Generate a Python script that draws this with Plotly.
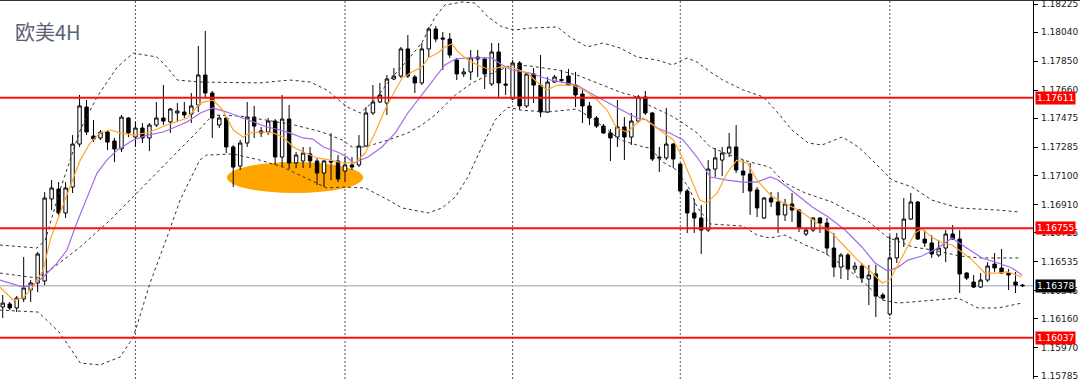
import plotly.graph_objects as go

# ---------------- data (EURUSD 4H) ----------------
opens = [1.16238,1.16258,1.16232,1.16291,1.16350,1.16396,1.16409,1.16947,1.17012,1.16855,
         1.17025,1.17307,1.17550,1.17360,1.17347,1.17386,1.17327,1.17275,1.17478,1.17353,
         1.17412,1.17347,1.17432,1.17478,1.17452,1.17511,1.17517,1.17504,1.17563,1.17760,
         1.17642,1.17432,1.17478,1.17288,1.17163,1.17314,1.17484,1.17393,1.17386,1.17458,
         1.17222,1.17471,1.17183,1.17196,1.17242,1.17196,1.17117,1.17196,1.17196,1.17130,
         1.17170,1.17170,1.17294,1.17511,1.17583,1.17576,1.17734,1.17753,1.17931,1.17747,
         1.17708,1.17931,1.18062,1.18003,1.17996,1.17858,1.17767,1.17780,1.17878,1.17865,
         1.17701,1.17911,1.17701,1.17603,1.17839,1.17557,1.17767,1.17694,1.17517,1.17714,
         1.17724,1.17753,1.17694,1.17635,1.17557,1.17478,1.17425,1.17380,1.17353,1.17419,
         1.17353,1.17458,1.17616,1.17511,1.17222,1.17216,1.17307,1.17176,1.16999,1.16855,
         1.16822,1.16743,1.17143,1.17202,1.17248,1.17288,1.17130,1.17111,1.17006,1.16822,
         1.16953,1.16927,1.16842,1.16914,1.16874,1.16717,1.16743,1.16822,1.16789,1.16625,
         1.16500,1.16579,1.16487,1.16507,1.16422,1.16455,1.16317,1.16192,1.16560,1.16684,
         1.16815,1.16927,1.16684,1.16658,1.16579,1.16625,1.16717,1.16684,1.16461,1.16402,
         1.16369,1.16415,1.16520,1.16494,1.16461,1.16402,1.16382]
highs = [1.16317,1.16271,1.16310,1.16566,1.16415,1.16599,1.16992,1.17071,1.17058,1.17058,
         1.17366,1.17629,1.17596,1.17465,1.17399,1.17399,1.17347,1.17498,1.17484,1.17452,
         1.17445,1.17445,1.17583,1.17694,1.17544,1.17576,1.17583,1.17642,1.17950,1.18049,
         1.17655,1.17498,1.17484,1.17301,1.17334,1.17583,1.17557,1.17419,1.17478,1.17471,
         1.17629,1.17563,1.17255,1.17288,1.17288,1.17216,1.17202,1.17380,1.17235,1.17222,
         1.17222,1.17366,1.17550,1.17694,1.17708,1.17760,1.17806,1.17944,1.18022,1.17760,
         1.17970,1.18075,1.18081,1.18042,1.18036,1.17872,1.17806,1.17924,1.17924,1.17878,
         1.17970,1.17970,1.17806,1.17858,1.17852,1.17773,1.17806,1.17891,1.17747,1.17760,
         1.17793,1.17800,1.17780,1.17668,1.17583,1.17491,1.17439,1.17406,1.17596,1.17484,
         1.17511,1.17629,1.17655,1.17517,1.17288,1.17544,1.17314,1.17183,1.17012,1.16947,
         1.16907,1.17202,1.17281,1.17288,1.17380,1.17432,1.17202,1.17183,1.17025,1.16960,
         1.16992,1.16992,1.16947,1.16986,1.16881,1.16756,1.16828,1.16828,1.16822,1.16724,
         1.16592,1.16592,1.16533,1.16527,1.16514,1.16514,1.16330,1.16710,1.16724,1.16953,
         1.16986,1.16934,1.16743,1.16710,1.16678,1.16743,1.16776,1.16743,1.16468,1.16448,
         1.16461,1.16533,1.16592,1.16619,1.16487,1.16468,1.16389]
lows = [1.16166,1.16218,1.16205,1.16271,1.16271,1.16336,1.16382,1.16874,1.16842,1.16822,
        1.16986,1.17288,1.17366,1.17320,1.17334,1.17268,1.17189,1.17255,1.17353,1.17288,
        1.17314,1.17261,1.17419,1.17432,1.17380,1.17452,1.17478,1.17445,1.17517,1.17616,
        1.17347,1.17412,1.17248,1.17025,1.17137,1.17288,1.17347,1.17353,1.17366,1.17170,
        1.17156,1.17143,1.17150,1.17150,1.17150,1.17038,1.17025,1.17071,1.17058,1.17058,
        1.17137,1.17156,1.17288,1.17498,1.17576,1.17498,1.17727,1.17740,1.17740,1.17642,
        1.17694,1.17878,1.17976,1.17793,1.17872,1.17727,1.17747,1.17727,1.17747,1.17668,
        1.17688,1.17616,1.17629,1.17596,1.17530,1.17544,1.17576,1.17484,1.17511,1.17708,
        1.17708,1.17688,1.17550,1.17445,1.17432,1.17412,1.17373,1.17196,1.17288,1.17202,
        1.17301,1.17445,1.17498,1.17196,1.17124,1.17202,1.17150,1.16986,1.16724,1.16724,
        1.16586,1.16730,1.17091,1.17097,1.17222,1.17117,1.16986,1.16842,1.16828,1.16815,
        1.16894,1.16724,1.16802,1.16796,1.16730,1.16704,1.16730,1.16724,1.16579,1.16435,
        1.16422,1.16415,1.16461,1.16396,1.16251,1.16172,1.16284,1.16179,1.16527,1.16632,
        1.16809,1.16678,1.16632,1.16560,1.16566,1.16533,1.16678,1.16330,1.16415,1.16363,
        1.16363,1.16402,1.16468,1.16455,1.16350,1.16330,1.16369]
closes = [1.16264,1.16232,1.16297,1.16363,1.16396,1.16586,1.16953,1.17019,1.16855,1.17019,
          1.17307,1.17557,1.17386,1.17340,1.17386,1.17320,1.17275,1.17484,1.17380,1.17412,
          1.17347,1.17432,1.17478,1.17458,1.17537,1.17524,1.17498,1.17557,1.17760,1.17642,
          1.17478,1.17478,1.17288,1.17156,1.17314,1.17484,1.17425,1.17380,1.17458,1.17222,
          1.17471,1.17183,1.17235,1.17248,1.17196,1.17117,1.17196,1.17189,1.17078,1.17170,
          1.17156,1.17294,1.17511,1.17583,1.17629,1.17734,1.17753,1.17931,1.17753,1.17708,
          1.17931,1.18062,1.17996,1.17996,1.17891,1.17767,1.17780,1.17872,1.17865,1.17767,
          1.17911,1.17708,1.17694,1.17839,1.17557,1.17767,1.17694,1.17517,1.17714,1.17747,
          1.17730,1.17694,1.17629,1.17557,1.17478,1.17425,1.17380,1.17347,1.17419,1.17353,
          1.17458,1.17616,1.17511,1.17209,1.17216,1.17307,1.17209,1.16999,1.16855,1.16822,
          1.16743,1.17143,1.17216,1.17248,1.17288,1.17137,1.17104,1.16999,1.16888,1.16953,
          1.16927,1.16842,1.16914,1.16874,1.16756,1.16743,1.16822,1.16789,1.16625,1.16500,
          1.16579,1.16487,1.16507,1.16428,1.16448,1.16310,1.16297,1.16560,1.16691,1.16815,
          1.16927,1.16684,1.16658,1.16586,1.16625,1.16717,1.16684,1.16455,1.16428,1.16369,
          1.16415,1.16507,1.16494,1.16461,1.16448,1.16382,1.16378]
bars = list(range(len(opens)))

# Bollinger bands
bb_up_x = [-0.4,4.9,6.1,8.2,11.1,13.5,16.4,18.7,22.1,23.5,25.0,28.2,36.8,41.1,44.0,46.4,49.3,51.2,53.3,55.4,
           57.6,60.0,61.9,63.3,65.8,67.6,69.5,71.5,73.3,75.5,79.4,81.2,83.7,85.9,88.4,90.8,93.7,95.9,98.0,99.4,
           101.3,103.1,106.0,108.9,111.0,113.0,115.3,117.3,120.2,122.5,124.9,127.3,130.2,133.0,136.8,142.5,145.6]
bb_up_y = [1.16645,1.16625,1.16678,1.17006,1.17399,1.17616,1.17812,1.17904,1.17878,1.17812,1.17727,1.17714,1.17708,1.17727,1.17714,1.17662,1.17550,1.17511,1.17596,1.17727,
           1.17839,1.17970,1.18140,1.18219,1.18239,1.18232,1.18140,1.18075,1.18055,1.18068,1.18075,1.18009,1.17944,1.17970,1.17937,1.17878,1.17858,1.17826,1.17872,1.17845,
           1.17780,1.17727,1.17662,1.17616,1.17511,1.17399,1.17314,1.17301,1.17353,1.17288,1.17183,1.17071,1.17025,1.16940,1.16888,1.16874,1.16861]
bb_mid_x = [-0.4,4.9,6.8,11.1,15.4,19.2,23.5,27.8,30.1,34.0,37.6,41.8,45.7,48.6,50.0,51.9,55.2,58.0,60.0,61.9,
            64.8,67.2,69.5,72.9,75.5,79.4,82.2,85.9,88.4,90.8,92.7,95.5,97.4,99.4,101.3,104.1,107.0,109.8,112.0,114.9,
            118.7,121.6,123.7,126.6,130.3,133.2,137.0,139.9,145.6]
bb_mid_y = [1.16461,1.16428,1.16481,1.16632,1.16809,1.16986,1.17183,1.17386,1.17498,1.17491,1.17465,1.17432,1.17386,1.17334,1.17288,1.17288,1.17334,1.17380,1.17432,1.17498,
            1.17629,1.17708,1.17760,1.17826,1.17819,1.17793,1.17760,1.17694,1.17648,1.17616,1.17557,1.17498,1.17445,1.17380,1.17288,1.17235,1.17189,1.17156,1.17051,1.16986,
            1.16927,1.16855,1.16809,1.16697,1.16632,1.16612,1.16573,1.16560,1.16560]
bb_low_x = [-0.4,5.1,8.2,11.1,13.9,16.8,18.7,21.1,23.9,25.4,28.2,29.2,33.0,36.8,40.1,44.0,46.4,48.7,51.9,55.2,
            57.2,60.9,62.9,64.8,66.6,68.6,70.5,72.3,74.1,77.9,82.2,85.1,88.4,91.7,92.7,94.5,96.5,98.4,99.4,101.3,
            106.0,108.0,109.8,112.0,114.9,117.7,120.6,123.4,125.9,128.2,133.0,136.8,139.6,142.5,145.9]
bb_low_y = [1.16218,1.16205,1.16067,1.15871,1.15858,1.15910,1.16041,1.16396,1.16743,1.16940,1.17202,1.17235,1.17242,1.17202,1.17156,1.17071,1.17019,1.17025,1.17019,1.16940,
            1.16888,1.16855,1.16888,1.16960,1.17091,1.17288,1.17465,1.17550,1.17530,1.17517,1.17537,1.17452,1.17334,1.17288,1.17281,1.17189,1.17137,1.17006,1.16894,1.16783,
            1.16769,1.16710,1.16691,1.16710,1.16645,1.16592,1.16500,1.16396,1.16284,1.16264,1.16284,1.16297,1.16232,1.16232,1.16264]

# fast MA (orange) and slow MA (purple)
ma_fast_x = [-0.4,1.5,2.9,4.3,5.8,6.8,8.2,9.6,11.1,12.5,13.9,15.4,16.8,18.7,21.1,23.5,26.4,28.3,30.1,31.5,
             33.0,34.4,35.4,37.3,38.7,40.1,41.6,43.0,45.0,46.9,48.7,50.4,51.9,53.3,54.7,56.2,57.2,58.6,60.0,60.9,
             62.3,63.3,64.3,65.2,66.6,68.0,69.8,71.2,73.1,75.1,76.5,77.9,79.4,81.6,83.7,85.1,86.5,87.9,89.4,90.8,
             91.7,93.1,94.5,96.0,97.0,98.4,99.8,100.8,102.3,103.7,105.1,106.6,108.0,109.9,111.0,113.9,116.7,118.7,120.6,122.4,
             124.5,125.9,127.0,128.0,129.2,130.6,131.6,133.0,134.5,135.9,137.3,138.8,140.6,142.5,143.9,145.9]
ma_fast_y = [1.16369,1.16284,1.16297,1.16369,1.16481,1.16678,1.16855,1.17025,1.17202,1.17314,1.17380,1.17399,1.17380,1.17366,1.17386,1.17432,1.17478,1.17576,1.17596,1.17530,
             1.17399,1.17353,1.17380,1.17386,1.17380,1.17353,1.17288,1.17255,1.17216,1.17202,1.17183,1.17183,1.17248,1.17380,1.17530,1.17662,1.17740,1.17780,1.17812,1.17872,
             1.17904,1.17944,1.17963,1.17911,1.17858,1.17826,1.17793,1.17812,1.17806,1.17773,1.17714,1.17662,1.17694,1.17694,1.17648,1.17596,1.17530,1.17412,1.17386,1.17445,
             1.17478,1.17432,1.17386,1.17334,1.17248,1.17091,1.16940,1.16920,1.16986,1.17117,1.17202,1.17183,1.17071,1.16973,1.16940,1.16874,1.16789,1.16724,1.16632,1.16546,
             1.16461,1.16396,1.16415,1.16500,1.16612,1.16724,1.16750,1.16697,1.16658,1.16645,1.16599,1.16546,1.16461,1.16461,1.16468,1.16435]
ma_slow_x = [-0.4,1.0,2.9,4.3,5.8,7.8,9.2,10.6,12.1,13.5,14.9,16.4,18.7,20.7,23.0,26.4,28.3,30.1,32.1,34.0,
             36.4,37.8,39.7,41.1,43.0,44.4,45.9,47.9,49.3,50.2,52.3,54.3,56.2,58.0,60.0,61.9,63.3,64.8,66.6,70.0,
             71.5,72.9,75.5,78.4,80.8,82.2,84.1,85.9,87.9,89.4,90.8,92.2,93.7,95.5,97.4,99.4,101.3,103.7,106.0,108.0,
             109.9,111.0,113.4,115.9,118.2,120.6,123.0,124.9,126.7,128.2,129.6,131.6,133.9,135.9,137.8,140.2,142.5,144.5,145.9]
ma_slow_y = [1.16415,1.16396,1.16369,1.16382,1.16435,1.16527,1.16612,1.16789,1.16960,1.17117,1.17202,1.17268,1.17334,1.17366,1.17386,1.17452,1.17511,1.17544,1.17517,1.17484,
             1.17445,1.17419,1.17399,1.17380,1.17347,1.17340,1.17288,1.17255,1.17222,1.17183,1.17222,1.17288,1.17380,1.17511,1.17629,1.17747,1.17826,1.17865,1.17872,1.17872,
             1.17826,1.17793,1.17773,1.17727,1.17708,1.17694,1.17642,1.17596,1.17550,1.17511,1.17478,1.17465,1.17412,1.17380,1.17334,1.17222,1.17091,1.17071,1.17058,1.17058,
             1.17091,1.17071,1.16986,1.16894,1.16828,1.16743,1.16632,1.16527,1.16474,1.16500,1.16546,1.16573,1.16625,1.16691,1.16632,1.16560,1.16527,1.16494,1.16448]

# horizontal levels
res_levels = [1.17611, 1.16755, 1.16037]
last_price = 1.16378
tick_vals = [1.18225, 1.18040, 1.17850, 1.17660, 1.17475, 1.17285, 1.17100,
             1.16910, 1.16725, 1.16535, 1.16345, 1.16160, 1.15970, 1.15785]
day_seps = [19, 49, 73, 97, 127]
# highlighted consolidation zone (bars, price)
zone_x = [32.1, 51.6]
zone_y = [1.16986, 1.17189]
title_text = "欧美4H"

# ---------------- figure ----------------
fig = go.Figure()

dash_style = dict(color="#333333", width=1, dash="3px,3px")
fig.add_trace(go.Scatter(x=bb_up_x, y=bb_up_y, mode="lines", line=dash_style, hoverinfo="skip"))
fig.add_trace(go.Scatter(x=bb_mid_x, y=bb_mid_y, mode="lines", line=dash_style, hoverinfo="skip"))
fig.add_trace(go.Scatter(x=bb_low_x, y=bb_low_y, mode="lines", line=dash_style, hoverinfo="skip"))

fig.add_trace(go.Candlestick(
    x=bars, open=opens, high=highs, low=lows, close=closes,
    increasing=dict(line=dict(color="#000000", width=1), fillcolor="#FFFFFF"),
    decreasing=dict(line=dict(color="#000000", width=1), fillcolor="#000000"),
    whiskerwidth=0,
))

fig.add_trace(go.Scatter(x=ma_slow_x, y=ma_slow_y, mode="lines",
                         line=dict(color="#A46BEA", width=1.2), hoverinfo="skip"))
fig.add_trace(go.Scatter(x=ma_fast_x, y=ma_fast_y, mode="lines",
                         line=dict(color="#FFA62B", width=1.2), hoverinfo="skip"))

shapes = []
# ellipse zone
shapes.append(dict(type="circle", xref="x", yref="y", x0=zone_x[0], x1=zone_x[1],
                   y0=zone_y[0], y1=zone_y[1], fillcolor="#FFA500", line=dict(width=0),
                   layer="below"))
# day separators
for d in day_seps:
    shapes.append(dict(type="line", xref="x", yref="paper", x0=d, x1=d, y0=0, y1=1,
                       line=dict(color="#555555", width=1, dash="2px,2px"), layer="below"))
# levels
for lv in res_levels:
    shapes.append(dict(type="line", xref="paper", yref="y", x0=0, x1=1, y0=lv, y1=lv,
                       line=dict(color="#FF1010", width=2)))
shapes.append(dict(type="line", xref="paper", yref="y", x0=0, x1=1, y0=last_price, y1=last_price,
                   line=dict(color="#B8C0CC", width=1.5), layer="below"))
# top border
shapes.append(dict(type="line", xref="paper", yref="paper", x0=0, x1=1.05, y0=1, y1=1,
                   line=dict(color="#333333", width=2)))

annotations = [dict(xref="paper", yref="paper", x=0.013, y=0.96, xanchor="left", yanchor="top",
                    text=title_text, showarrow=False,
                    font=dict(family="Noto Sans CJK SC", size=20, color="#5A6470"))]
# axis tick labels (drawn as text next to the tick marks)
for v in tick_vals:
    annotations.append(dict(xref="paper", yref="y", x=1, y=v, xanchor="left", yanchor="middle",
                            xshift=6, text=f"{v:.5f}", showarrow=False,
                            font=dict(family="DejaVu Sans", size=9, color="#1A1A1A")))
for lv in res_levels:
    annotations.append(dict(xref="paper", yref="y", x=1, y=lv, xanchor="left", yanchor="middle",
                            xshift=2, text=f"{lv:.5f}", showarrow=False, bgcolor="#FF0000",
                            borderpad=1, font=dict(family="DejaVu Sans", size=9, color="#FFFFFF")))
annotations.append(dict(xref="paper", yref="y", x=1, y=last_price, xanchor="left", yanchor="middle",
                        xshift=2, text=f"{last_price:.5f}", showarrow=False, bgcolor="#000000",
                        borderpad=1, font=dict(family="DejaVu Sans", size=9, color="#FFFFFF")))

fig.update_layout(
    width=1080, height=379,
    margin=dict(l=0, r=47, t=0, b=0),
    paper_bgcolor="#FFFFFF", plot_bgcolor="#FFFFFF",
    showlegend=False,
    shapes=shapes, annotations=annotations,
    xaxis=dict(range=[-0.39, 147.5], showticklabels=False, showgrid=False, zeroline=False,
               rangeslider=dict(visible=False), ticks=""),
    yaxis=dict(range=[1.15766, 1.18252], side="right", tickvals=tick_vals,
               showticklabels=False, showgrid=False, zeroline=False,
               ticks="outside", ticklen=4, tickcolor="#000000", showline=True,
               linecolor="#000000", linewidth=1),
)

fig.write_html("out.html")
